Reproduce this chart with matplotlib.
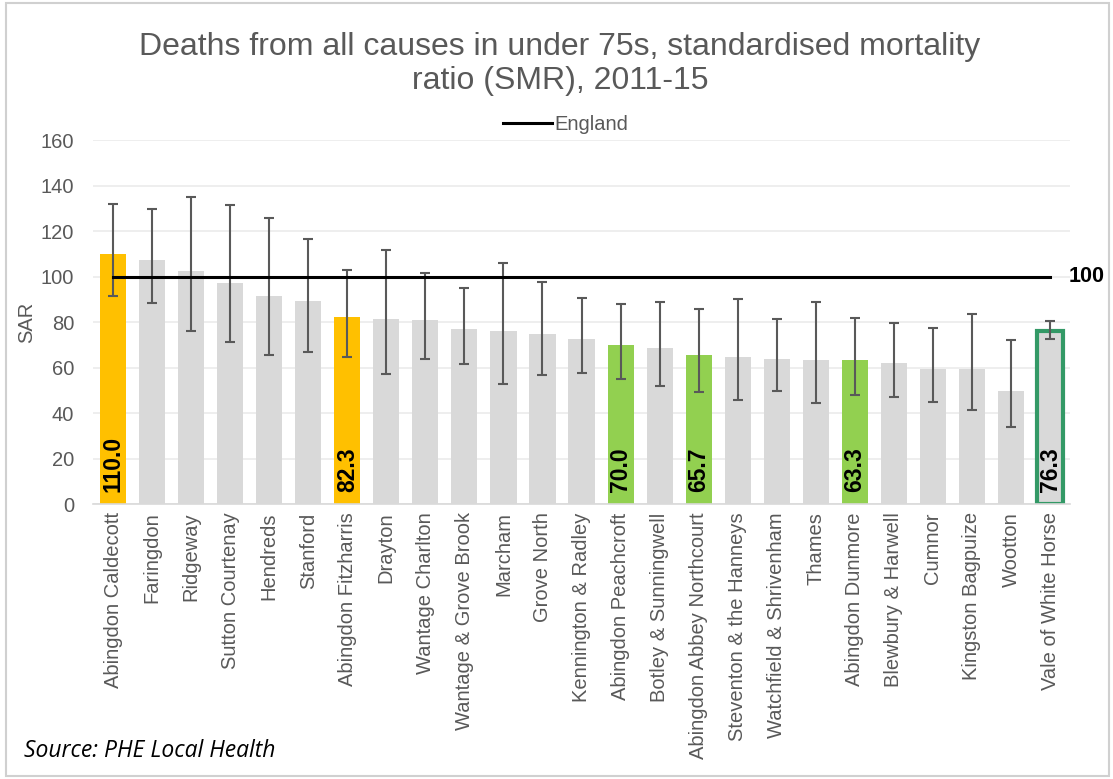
import matplotlib
matplotlib.use("Agg")
import matplotlib.pyplot as plt
import numpy as np

plt.rcParams['font.family'] = ['Liberation Sans', 'DejaVu Sans']

# wards, sorted as in the chart
areas = ["Abingdon Caldecott", "Faringdon", "Ridgeway", "Sutton Courtenay", "Hendreds",
         "Stanford", "Abingdon Fitzharris", "Drayton", "Wantage Charlton",
         "Wantage & Grove Brook", "Marcham", "Grove North", "Kennington & Radley",
         "Abingdon Peachcroft", "Botley & Sunningwell", "Abingdon Abbey Northcourt",
         "Steventon & the Hanneys", "Watchfield & Shrivenham", "Thames",
         "Abingdon Dunmore", "Blewbury & Harwell", "Cumnor", "Kingston Bagpuize",
         "Wootton", "Vale of White Horse"]
smr = [110.0, 107.5, 102.3, 97.4, 91.7, 89.2, 82.3, 81.2, 81.0, 76.8, 76.3, 74.9, 72.5,
       70.0, 68.4, 65.7, 64.8, 63.7, 63.3, 63.3, 61.8, 59.5, 59.5, 49.8, 76.3]
ci_low = [91.4, 88.5, 75.9, 71.2, 65.4, 66.8, 64.8, 57.1, 63.9, 61.4, 52.7, 56.7, 57.6,
          54.8, 51.9, 49.4, 45.7, 49.5, 44.3, 47.9, 47.0, 45.0, 41.3, 33.7, 72.7]
ci_high = [131.9, 129.8, 135.2, 131.3, 125.6, 116.5, 102.9, 111.6, 101.4, 95.2, 105.8,
           97.7, 90.4, 88.1, 88.9, 85.6, 90.0, 81.2, 88.9, 81.6, 79.8, 77.4, 83.4, 72.1, 80.4]
england = 100

# highlighted wards and their labels
highlight = {"Abingdon Caldecott": "#FFC000", "Abingdon Fitzharris": "#FFC000",
             "Abingdon Peachcroft": "#92D050", "Abingdon Abbey Northcourt": "#92D050",
             "Abingdon Dunmore": "#92D050"}
labelled = ["Abingdon Caldecott", "Abingdon Fitzharris", "Abingdon Peachcroft",
            "Abingdon Abbey Northcourt", "Abingdon Dunmore", "Vale of White Horse"]

fig = plt.figure(figsize=(11.13, 7.79), dpi=100)
ax = fig.add_axes([0.084, 0.353, 0.877, 0.467])

x = np.arange(len(areas))
colors = [highlight.get(a, "#D9D9D9") for a in areas]
bars = ax.bar(x, smr, width=0.67, color=colors, zorder=2)

# district bar gets a green outline
vi = areas.index("Vale of White Horse")
bars[vi].set_edgecolor("#339966")
bars[vi].set_linewidth(3)

err = [np.array(smr) - np.array(ci_low), np.array(ci_high) - np.array(smr)]
ax.errorbar(x, smr, yerr=err, fmt='none', ecolor="#595959", elinewidth=1.5,
            capsize=3.4, capthick=1.5, zorder=3)

ax.plot([x[0], x[-1]], [england, england], color="black", lw=2.2, zorder=4, label="England")
ax.text(x[-1] + 0.48, england, "100", fontsize=15.5, fontweight='bold', va='center', ha='left')

for a in labelled:
    i = areas.index(a)
    ax.text(i, 5.5, "%.1f" % smr[i], rotation=90, ha='center', va='bottom',
            fontsize=16.5, fontweight='bold', color='black', zorder=5)

ax.set_xlim(-0.5, len(areas) - 0.5)
ax.set_ylim(0, 160)
ax.set_yticks(np.arange(0, 161, 20))
ax.set_xticks(x)
ax.set_xticklabels(areas, rotation=90, fontsize=14.5, color="#595959")
ax.tick_params(axis='y', labelsize=14.5, labelcolor="#595959", length=0, pad=14)
ax.tick_params(axis='x', length=0, pad=6)
ax.grid(axis='y', color="#EBEBEB", lw=1.2, zorder=0)
for s in ["top", "right", "left"]:
    ax.spines[s].set_visible(False)
ax.spines["bottom"].set_color("#D9D9D9")
ax.spines["bottom"].set_linewidth(1.2)
ax.set_ylabel("SAR", fontsize=14.5, color="#595959", labelpad=3)

fig.text(0.503, 0.918, "Deaths from all causes in under 75s, standardised mortality\nratio (SMR), 2011-15",
         ha='center', va='center', fontsize=23, color="#595959", linespacing=1.2)
ax.legend(loc='upper center', bbox_to_anchor=(0.484, 1.12), frameon=False, fontsize=14.5,
          handlelength=2.4, handletextpad=0.15, labelcolor="#595959")

fig.text(0.022, 0.028, "Source: PHE Local Health", fontsize=16.5, style='italic',
         family=['Open Sans', 'DejaVu Sans'], color="black")

# thin frame round the figure
fig.add_artist(plt.Rectangle((0.005, 0.004), 0.991, 0.992, transform=fig.transFigure,
                             fill=False, edgecolor="#D0D0D0", lw=1.5))

fig.savefig("out.png", dpi=100)
